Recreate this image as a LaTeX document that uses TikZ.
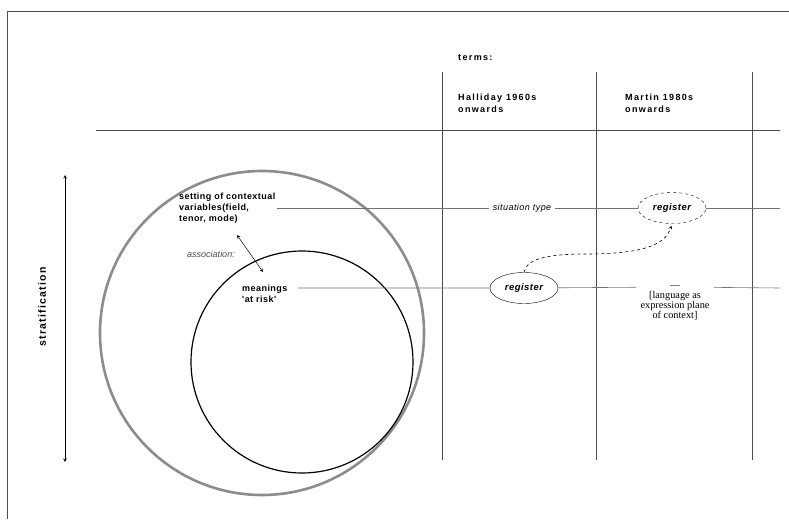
\documentclass[tikz,border=0pt]{standalone}
\usepackage{fontspec}
\setmainfont{Liberation Sans}
\newfontfamily\serifx{Liberation Serif}
\newfontfamily\headfnt[LetterSpace=15]{Liberation Sans}
\newfontfamily\lblfnt[LetterSpace=5]{Liberation Sans}
\newfontfamily\stratfnt[LetterSpace=12]{Liberation Sans}
\usetikzlibrary{shapes.geometric}

\tikzset{
  lbl/.style={font=\lblfnt\bfseries\fontsize{9}{11}\selectfont, align=left, inner sep=1pt},
  head/.style={font=\headfnt\bfseries\fontsize{9}{12}\selectfont, align=left, inner sep=0pt, anchor=west},
  term/.style={font=\lblfnt\itshape\fontsize{9}{10}\selectfont, inner sep=4pt},
  regbox/.style={ellipse, draw, minimum width=68pt, minimum height=31pt, inner sep=0pt,
                 font=\lblfnt\bfseries\itshape\fontsize{9.5}{10}\selectfont},
  rule/.style={draw=black!70, line width=0.8pt},
  guide/.style={draw=black!55, line width=0.6pt}
}

\begin{document}
\begin{tikzpicture}[x=1pt, y=-1pt, >=stealth]
  \useasboundingbox (0,0) rectangle (789,519);

  % frame and table lines
  \draw[rule] (7,519) -- (7,11) -- (789,11);
  \draw[rule] (96,130) -- (780,130);
  \foreach \x in {442, 596, 752} {
    \draw[rule] (\x,72) -- (\x,460);
  }

  % headings
  \node (terms) at (458,58) [head] {terms:};
  \node (halliday) at (458,103) [head] {Halliday 1960s\\onwards};
  \node (martin) at (625,103) [head] {Martin 1980s\\onwards};

  % the two circles
  \draw[black!45, line width=2.6pt] (262,333) circle (162pt);
  \draw[black, line width=1.2pt] (302,362) circle (111pt);

  % stratification
  \coordinate (stratTop) at (65,175);
  \coordinate (stratBot) at (65,462);
  \draw[<->, line width=0.6pt] (stratTop) -- (stratBot);
  \node (strat) at (42,307) [rotate=90, font=\stratfnt\bfseries\fontsize{10.5}{12}\selectfont] {stratification};

  % left hand labels
  \node (setting) at (178,208) [lbl, anchor=west] {setting of contextual\\variables(field,\\tenor, mode)};
  \node (meanings) at (241,294) [lbl, anchor=west] {meanings\\'at risk'};
  \node (assoc) at (211,254) [font=\itshape\fontsize{9}{10}\selectfont, text=black!70] {association:};
  \coordinate (assocA) at (237,235);
  \coordinate (assocB) at (263,272);
  \draw[<->, line width=0.5pt] (assocA) -- (assocB);

  % terms in the columns
  \node (sitType) at (522,208) [term] {situation type};
  \node (regM) at (672,208) [regbox, dashed] {register};
  \node (regH) at (524,288) [regbox] {register};
  \node (dash) at (675,287) [minimum width=77pt, inner sep=0pt, font=\serifx\fontsize{10}{10}\selectfont] {—};
  \node (lang) at (675,306) [align=center, inner sep=0pt, font=\serifx\fontsize{10.3}{10}\selectfont] {[language as\\expression plane\\of context]};
  \coordinate (endM) at (780,208);
  \coordinate (endH) at (780,288);

  \draw[guide] (setting) -- (sitType) -- (regM) -- (endM);
  \draw[guide] ([xshift=9pt]meanings.east |- regH) -- (regH) -- (dash) -- (endH);

  \draw[->, dashed, line width=0.6pt, shorten >=2pt] (regH.north)
    .. controls (526,262) and (538,254) .. (585,254)
    .. controls (640,254) and (665,246) .. (regM.south);
\end{tikzpicture}
\end{document}
